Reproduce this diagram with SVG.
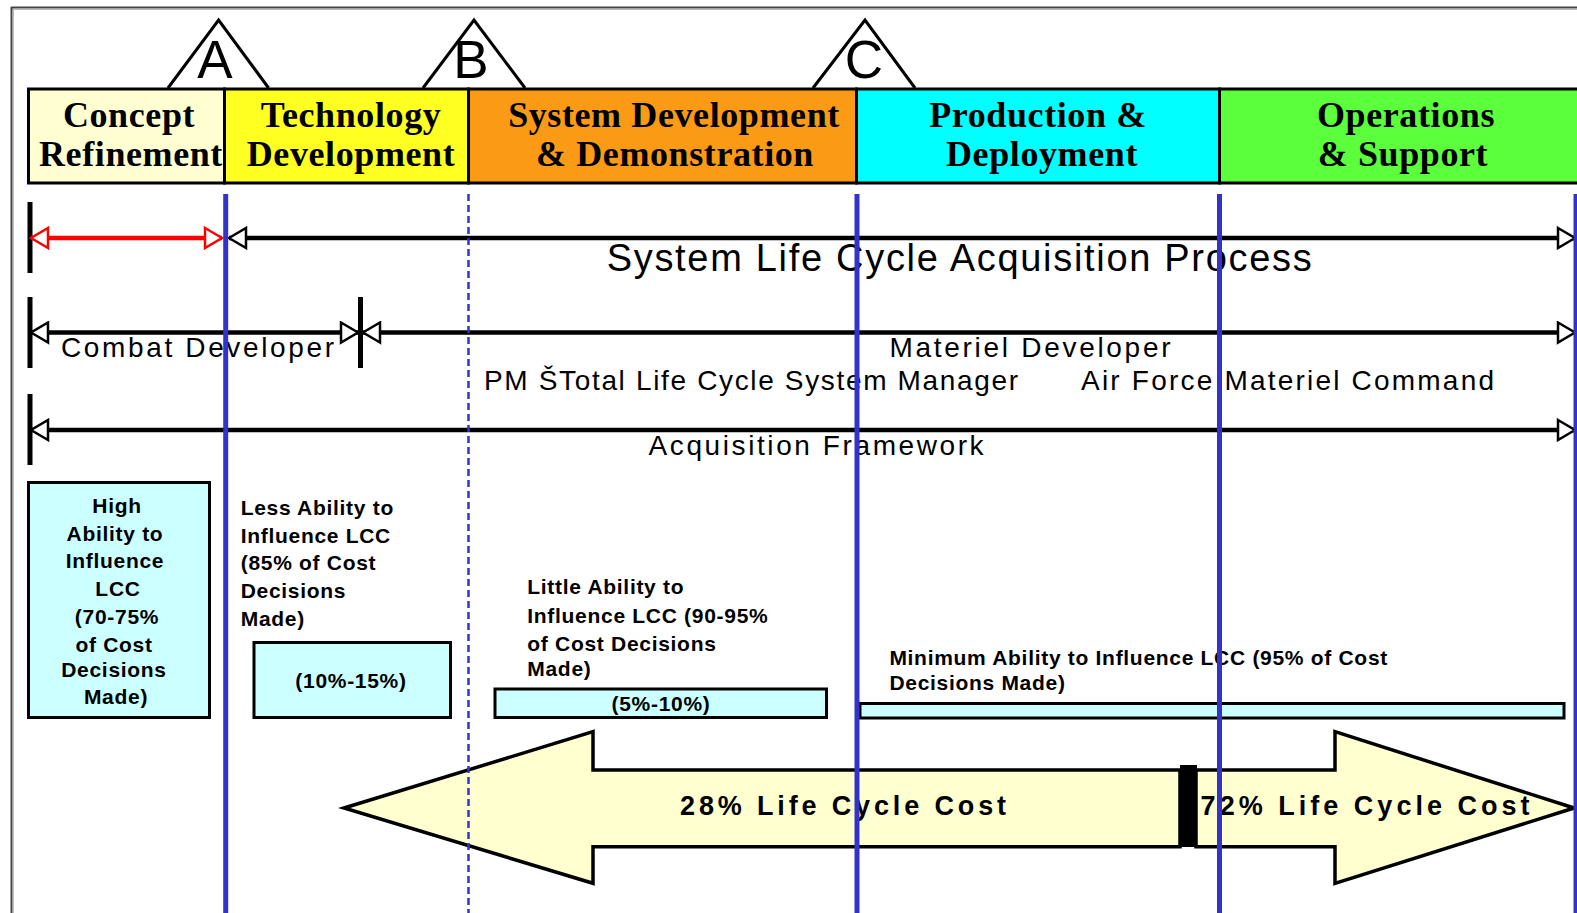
<svg xmlns="http://www.w3.org/2000/svg" width="1577" height="913" viewBox="0 0 1577 913">
<style>
.hdr{font-family:"Liberation Serif","Times New Roman",serif;font-weight:bold;font-size:36px;fill:#000;text-anchor:middle;letter-spacing:0.6px}
.ms{font-family:"Liberation Sans",Arial,sans-serif;font-size:53px;fill:#000;text-anchor:middle}
.lbl{font-family:"Liberation Sans",Arial,sans-serif;fill:#000}
.sm{font-family:"Liberation Sans",Arial,sans-serif;font-weight:bold;font-size:21px;fill:#000;letter-spacing:0.7px}
.big{font-family:"Liberation Sans",Arial,sans-serif;font-weight:bold;font-size:27px;fill:#000}
.box{fill:#CCFFFF;stroke:#000;stroke-width:3}
.tick{stroke:#000;stroke-width:5}
.ln{stroke:#000;stroke-width:4.5;fill:none}
.blue{stroke:#3333CC;stroke-width:5}
</style>
<defs>
<marker id="ah" markerUnits="userSpaceOnUse" markerWidth="24" markerHeight="24" viewBox="0 0 24 24" refX="22" refY="12" orient="auto-start-reverse">
<path d="M5,2 L22,12 L5,22 Z" fill="#fff" stroke="#000" stroke-width="2.5"/>
</marker>
<marker id="ahr" markerUnits="userSpaceOnUse" markerWidth="24" markerHeight="24" viewBox="0 0 24 24" refX="22" refY="12" orient="auto-start-reverse">
<path d="M5,2 L22,12 L5,22 Z" fill="#fff" stroke="#FF0000" stroke-width="2.5"/>
</marker>
</defs>
<rect x="0" y="0" width="1577" height="913" fill="#fff"/>
<g id="frame">
<line x1="11" y1="7.5" x2="1577" y2="7.5" stroke="#444" stroke-width="2"/>
<line x1="11" y1="9.5" x2="1577" y2="9.5" stroke="#bbb" stroke-width="1"/>
<line x1="11.5" y1="7" x2="11.5" y2="913" stroke="#444" stroke-width="2"/>
<line x1="13.5" y1="9" x2="13.5" y2="913" stroke="#bbb" stroke-width="1"/>
</g>
<g id="milestone-A">
<polyline points="168,88 218.6,20 268.6,88" fill="none" stroke="#000" stroke-width="3"/>
<text class="ms" x="215" y="78">A</text>
</g>
<g id="milestone-B">
<polyline points="423,88 474,20 525,88" fill="none" stroke="#000" stroke-width="3"/>
<text class="ms" x="471" y="78">B</text>
</g>
<g id="milestone-C">
<polyline points="813,88 865,20 915,88" fill="none" stroke="#000" stroke-width="3"/>
<text class="ms" x="864" y="78">C</text>
</g>
<g id="phase-concept">
<rect x="28.5" y="89" width="196" height="94" fill="#FFFFD2" stroke="#000" stroke-width="3"/>
<text class="hdr" x="129" y="127">Concept</text>
<text class="hdr" x="131" y="166">Refinement</text>
</g>
<g id="phase-technology">
<rect x="224.5" y="89" width="244" height="94" fill="#FFFF22" stroke="#000" stroke-width="3"/>
<text class="hdr" x="351" y="127">Technology</text>
<text class="hdr" x="351" y="166">Development</text>
</g>
<g id="phase-sdd">
<rect x="468.5" y="89" width="388" height="94" fill="#FB9A14" stroke="#000" stroke-width="3"/>
<text class="hdr" x="674" y="127">System Development</text>
<text class="hdr" x="675" y="166">&amp; Demonstration</text>
</g>
<g id="phase-production">
<rect x="856.5" y="89" width="363" height="94" fill="#00FFFF" stroke="#000" stroke-width="3"/>
<text class="hdr" x="1038" y="127">Production &amp;</text>
<text class="hdr" x="1042" y="166">Deployment</text>
</g>
<g id="phase-operations">
<rect x="1219.5" y="89" width="370" height="94" fill="#5CFF3C" stroke="#000" stroke-width="3"/>
<text class="hdr" x="1406" y="127">Operations</text>
<text class="hdr" x="1403" y="166">&amp; Support</text>
</g>
<g id="connectors">
<line class="tick" x1="30" y1="202" x2="30" y2="273"/>
<line x1="31" y1="238" x2="222" y2="238" stroke="#FF0000" stroke-width="4.5" marker-start="url(#ahr)" marker-end="url(#ahr)"/>
<line class="ln" x1="229" y1="238" x2="1575" y2="238" marker-start="url(#ah)" marker-end="url(#ah)"/>
<line class="tick" x1="30" y1="297" x2="30" y2="368"/>
<line class="tick" x1="360.5" y1="297" x2="360.5" y2="368"/>
<line class="ln" x1="31" y1="332.5" x2="358" y2="332.5" marker-start="url(#ah)" marker-end="url(#ah)"/>
<line class="ln" x1="363" y1="332.5" x2="1575" y2="332.5" marker-start="url(#ah)" marker-end="url(#ah)"/>
<line class="tick" x1="30" y1="394" x2="30" y2="465"/>
<line class="ln" x1="31" y1="430" x2="1575" y2="430" marker-start="url(#ah)" marker-end="url(#ah)"/>
</g>
<g id="labels">
<text class="lbl" x="606.7" y="271" font-size="38" textLength="705" lengthAdjust="spacing">System Life Cycle Acquisition Process</text>
<text class="lbl" x="61" y="357" font-size="28" textLength="273" lengthAdjust="spacing">Combat Developer</text>
<text class="lbl" x="889.5" y="357" font-size="28" textLength="281" lengthAdjust="spacing">Materiel Developer</text>
<text class="lbl" x="484" y="390" font-size="28" textLength="534" lengthAdjust="spacing">PM ŠTotal Life Cycle  System Manager</text>
<text class="lbl" x="1081" y="390" font-size="28" textLength="413" lengthAdjust="spacing">Air Force Materiel Command</text>
<text class="lbl" x="648.6" y="455" font-size="28" textLength="335" lengthAdjust="spacing">Acquisition Framework</text>
</g>
<g id="box-high">
<rect class="box" x="28.5" y="482.5" width="181" height="235"/>
<g class="sm" text-anchor="middle">
<text x="117" y="513">High</text>
<text x="115" y="541">Ability to</text>
<text x="115" y="568">Influence</text>
<text x="118" y="596">LCC</text>
<text x="117" y="624">(70-75%</text>
<text x="114" y="652">of Cost</text>
<text x="114" y="677">Decisions</text>
<text x="116" y="704">Made)</text>
</g>
</g>
<g id="text-less">
<g class="sm">
<text x="240.7" y="515">Less Ability to</text>
<text x="240.7" y="543">Influence LCC</text>
<text x="240.7" y="570">(85% of Cost</text>
<text x="240.7" y="598">Decisions</text>
<text x="240.7" y="626">Made)</text>
</g>
</g>
<g id="box-10-15">
<rect class="box" x="254" y="642.5" width="196.5" height="75"/>
<text class="sm" x="351" y="688" text-anchor="middle">(10%-15%)</text>
</g>
<g id="text-little">
<g class="sm">
<text x="527.3" y="593.5">Little Ability to</text>
<text x="527.3" y="623">Influence LCC (90-95%</text>
<text x="527.3" y="650.5">of Cost Decisions</text>
<text x="527.3" y="676">Made)</text>
</g>
</g>
<g id="box-5-10">
<rect class="box" x="495" y="689" width="331.5" height="28.5"/>
<text class="sm" x="661" y="711" text-anchor="middle">(5%-10%)</text>
</g>
<g id="text-minimum">
<g class="sm">
<text x="889.4" y="665">Minimum Ability to Influence LCC (95% of Cost</text>
<text x="889.4" y="690">Decisions Made)</text>
</g>
</g>
<g id="box-minimum">
<rect class="box" x="860" y="703.5" width="704" height="14.5"/>
</g>
<g id="cost-arrows">
<polygon points="344,808 593,731.7 593,770 1180,770 1180,846.7 593,846.7 593,883.3" fill="#FFFFD0" stroke="#000" stroke-width="3.5" stroke-linejoin="miter"/>
<polygon points="1196,770 1335,770 1335,731.7 1574,808 1335,883.3 1335,846.7 1196,846.7" fill="#FFFFD0" stroke="#000" stroke-width="3.5" stroke-linejoin="miter"/>
<rect x="1180" y="765" width="17" height="82" fill="#000"/>
<text class="big" x="680" y="815" textLength="326" lengthAdjust="spacing">28% Life Cycle Cost</text>
<text class="big" x="1200.6" y="815" textLength="329" lengthAdjust="spacing">72% Life Cycle Cost</text>
</g>
<g id="phase-boundaries">
<line class="blue" x1="225.7" y1="194" x2="225.7" y2="913"/>
<line x1="468.5" y1="194" x2="468.5" y2="913" stroke="#3333CC" stroke-width="2.5" stroke-dasharray="7 4"/>
<line class="blue" x1="857" y1="194" x2="857" y2="913"/>
<line class="blue" x1="1219.5" y1="194" x2="1219.5" y2="913"/>
<line class="blue" x1="1576" y1="194" x2="1576" y2="913" stroke-width="3"/>
</g>
</svg>
